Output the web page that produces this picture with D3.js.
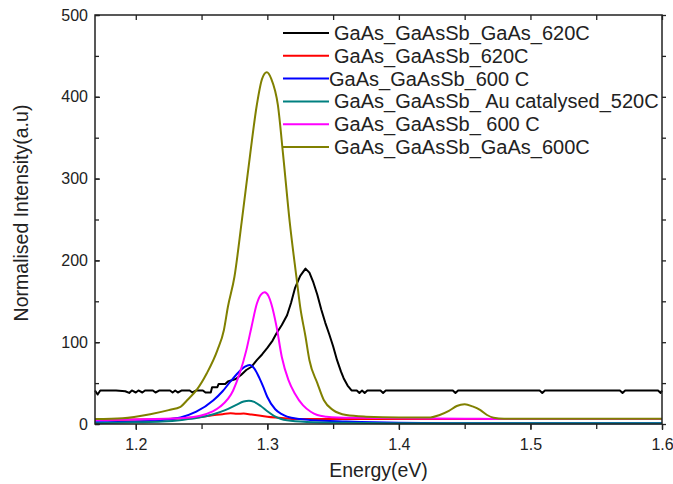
<!DOCTYPE html>
<html>
<head>
    <title>PL spectra</title>
    <script src="https://d3js.org/d3.v7.min.js"></script>
    <style>
        body { margin: 0; background: white; }
        text { font-family: "Liberation Sans", Arial, sans-serif; fill: #222; }
    </style>
</head>
<body>
    <div id="chart"></div>

    <script>
        // Series labels (legend order = draw order)
        const seriesNames = [
            "GaAs_GaAsSb_GaAs_620C",
            "GaAs_GaAsSb_620C",
            "GaAs_GaAsSb_600 C",
            "GaAs_GaAsSb_ Au catalysed_520C",
            "GaAs_GaAsSb_ 600 C",
            "GaAs_GaAsSb_GaAs_600C"
        ];
        const seriesColors = ["#000000", "#ff0000", "#0000ff", "#008080", "#ff00ff", "#808000"];

        // [energy eV, intensity]
        const gaasGaassbGaas620 = [
            [1.169, 41], [1.171, 36], [1.173, 41], [1.185, 41], [1.192, 40], [1.195, 38], [1.197, 41],
            [1.200, 38.5], [1.202, 41], [1.205, 38.5], [1.207, 41], [1.213, 41], [1.215, 38.5], [1.218, 41],
            [1.226, 41], [1.228, 38.5], [1.230, 41], [1.232, 38.5], [1.235, 41], [1.241, 41], [1.243, 38.5],
            [1.246, 41], [1.251, 41], [1.253, 38.5], [1.257, 38.5], [1.258, 45], [1.262, 45], [1.263, 49],
            [1.268, 49], [1.270, 52], [1.276, 55], [1.280, 60], [1.284, 66], [1.288, 70], [1.292, 78],
            [1.296, 85], [1.300, 93], [1.304, 102], [1.307, 111], [1.311, 121], [1.315, 133], [1.318, 148],
            [1.321, 166], [1.325, 181], [1.329, 190], [1.332, 185], [1.335, 173], [1.338, 158], [1.341, 140],
            [1.344, 124], [1.347, 110], [1.350, 95], [1.353, 78], [1.356, 64], [1.358, 56], [1.361, 47],
            [1.364, 41], [1.368, 41], [1.370, 38], [1.372, 41], [1.374, 38], [1.376, 41], [1.386, 41],
            [1.388, 38], [1.390, 41], [1.441, 41], [1.443, 38], [1.445, 41], [1.507, 41], [1.509, 38],
            [1.511, 41], [1.568, 41], [1.570, 38], [1.572, 41], [1.597, 41], [1.599, 38], [1.600, 41]
        ];
        const gaasGaassb620 = [
            [1.169, 5], [1.190, 5.3], [1.220, 5.8], [1.235, 7], [1.245, 8], [1.253, 9.5], [1.260, 11],
            [1.266, 12], [1.272, 13], [1.277, 12.5], [1.282, 12.8], [1.288, 11.5], [1.295, 10], [1.300, 9],
            [1.306, 8], [1.313, 7], [1.321, 6], [1.350, 6], [1.450, 6], [1.600, 6]
        ];
        const gaasGaassb600 = [
            [1.169, 2], [1.200, 3], [1.220, 5], [1.234, 8], [1.246, 15], [1.259, 29], [1.266, 40],
            [1.272, 52], [1.278, 63], [1.283, 70], [1.2865, 72], [1.290, 68], [1.294, 56], [1.297, 45],
            [1.300, 33], [1.306, 18], [1.311, 12], [1.315, 9], [1.325, 6], [1.335, 4.5], [1.360, 3],
            [1.400, 1.5], [1.450, 1], [1.600, 1]
        ];
        const gaasGaassbAu520 = [
            [1.169, 1], [1.200, 2], [1.220, 3], [1.235, 5], [1.247, 7.5], [1.259, 12], [1.268, 17],
            [1.276, 23], [1.282, 27.5], [1.286, 28.5], [1.290, 27], [1.295, 22], [1.300, 15.5], [1.305, 10],
            [1.310, 6.5], [1.315, 4.5], [1.330, 2.5], [1.360, 1.5], [1.400, 1], [1.600, 1]
        ];
        const gaasGaassb600b = [
            [1.169, 5], [1.200, 5.5], [1.234, 7], [1.249, 10], [1.258, 15], [1.264, 21], [1.274, 41],
            [1.279, 62], [1.284, 90], [1.288, 119], [1.292, 147], [1.295, 158], [1.298, 161], [1.301, 156],
            [1.303, 147], [1.307, 119], [1.311, 82], [1.316, 54], [1.321, 37], [1.327, 23], [1.333, 15],
            [1.338, 11], [1.345, 9], [1.353, 8], [1.370, 7.5], [1.400, 7], [1.450, 6.5], [1.480, 6], [1.600, 6]
        ];
        const gaasGaassbGaas600 = [
            [1.169, 6], [1.190, 7], [1.211, 12], [1.225, 17], [1.234, 21], [1.239, 29], [1.246, 41],
            [1.254, 62], [1.262, 90], [1.267, 115], [1.270, 143], [1.275, 180], [1.2805, 247], [1.2869, 329],
            [1.292, 390], [1.296, 422], [1.2996, 430], [1.303, 422], [1.308, 390], [1.312, 329], [1.317, 247],
            [1.322, 181], [1.325, 143], [1.329, 107], [1.332, 78], [1.338, 50], [1.343, 29], [1.350, 17],
            [1.360, 11], [1.375, 9], [1.400, 8], [1.424, 8], [1.431, 11], [1.438, 16], [1.444, 22],
            [1.450, 24], [1.456, 21.5], [1.462, 17], [1.467, 11], [1.472, 7.7], [1.480, 6.5], [1.600, 6.5]
        ];
        const seriesData = [gaasGaassbGaas620, gaasGaassb620, gaasGaassb600, gaasGaassbAu520, gaasGaassb600b, gaasGaassbGaas600];

        // Axis ticks
        const xTickValues = [1.2, 1.3, 1.4, 1.5, 1.6];
        const xMinorTicks = [1.2, 1.25, 1.3, 1.35, 1.4, 1.45, 1.5, 1.55, 1.6];
        const yTickValues = [0, 100, 200, 300, 400, 500];
        const yMinorTicks = [0, 50, 100, 150, 200, 250, 300, 350, 400, 450, 500];

        const config = {
            margin: { top: 15, right: 11, bottom: 60, left: 95 },
            width: 673,
            height: 484
        };
        const innerW = config.width - config.margin.left - config.margin.right;
        const innerH = config.height - config.margin.top - config.margin.bottom;

        const svg = d3.select("#chart")
            .append("svg")
            .attr("width", config.width)
            .attr("height", config.height);

        const g = svg.append("g")
            .attr("transform", `translate(${config.margin.left},${config.margin.top})`);

        const xScale = d3.scaleLinear().domain([1.169, 1.6]).range([0, innerW]);
        const yScale = d3.scaleLinear().domain([0, 500]).range([innerH, 0]);

        const lineGenerator = d3.line()
            .x(d => xScale(d[0]))
            .y(d => yScale(d[1]));

        // Data lines
        g.selectAll(".line")
            .data(seriesData)
            .enter()
            .append("path")
            .attr("class", "line")
            .attr("d", (d, i) => lineGenerator.curve(i === 0 ? d3.curveLinear : d3.curveMonotoneX)(d))
            .attr("fill", "none")
            .attr("stroke", (d, i) => seriesColors[i])
            .attr("stroke-width", 2)
            .attr("stroke-linejoin", "round");

        // Axes: bottom out, left in, top mirrors bottom (in), right mirrors left (out)
        function styleAxis(sel) {
            sel.select(".domain").remove();
            sel.selectAll("line").attr("stroke", "#222").attr("stroke-width", 1.3);
            sel.selectAll("text").style("font-size", "16px").attr("fill", "#222");
        }

        g.append("g")
            .attr("transform", `translate(0,${innerH})`)
            .call(d3.axisBottom(xScale).tickValues(xMinorTicks).tickSize(5).tickFormat(""))
            .call(styleAxis);
        g.append("g")
            .attr("transform", `translate(0,${innerH})`)
            .call(d3.axisBottom(xScale).tickValues(xTickValues).tickSize(6).tickPadding(9).tickFormat(d3.format(".1f")))
            .call(styleAxis);
        g.append("g")
            .call(d3.axisTop(xScale).tickValues(xMinorTicks).tickSize(-5).tickFormat(""))
            .call(styleAxis);

        g.append("g")
            .call(d3.axisLeft(yScale).tickValues(yMinorTicks).tickSize(-4).tickFormat(""))
            .call(styleAxis);
        g.append("g")
            .call(d3.axisLeft(yScale).tickValues(yTickValues).tickSize(-5).tickPadding(7))
            .call(styleAxis);
        g.append("g")
            .attr("transform", `translate(${innerW},0)`)
            .call(d3.axisRight(yScale).tickValues(yMinorTicks).tickSize(4).tickFormat(""))
            .call(styleAxis);

        // Frame
        g.append("rect")
            .attr("width", innerW)
            .attr("height", innerH)
            .attr("fill", "none")
            .attr("stroke", "#222")
            .attr("stroke-width", 1.5);

        // Axis titles
        svg.append("text")
            .attr("x", config.margin.left + innerW / 2)
            .attr("y", 477)
            .attr("text-anchor", "middle")
            .style("font-size", "19.5px")
            .text("Energy(eV)");

        svg.append("text")
            .attr("transform", `translate(28,${config.margin.top + 198}) rotate(-90)`)
            .attr("text-anchor", "middle")
            .style("font-size", "19.5px")
            .text("Normalised Intensity(a.u)");

        // Legend
        const legend = svg.append("g").attr("transform", "translate(283,33)");
        const rows = legend.selectAll("g")
            .data(seriesNames)
            .enter()
            .append("g")
            .attr("transform", (d, i) => `translate(0,${i * 22.8})`);
        rows.append("line")
            .attr("x1", 0).attr("x2", 46)
            .attr("y1", 0).attr("y2", 0)
            .attr("stroke", (d, i) => seriesColors[i])
            .attr("stroke-width", 2);
        rows.append("text")
            .attr("x", (d, i) => i === 2 ? 46 : 51)
            .attr("y", 7)
            .style("font-size", "20px")
            .text(d => d);
    </script>
</body>
</html>
